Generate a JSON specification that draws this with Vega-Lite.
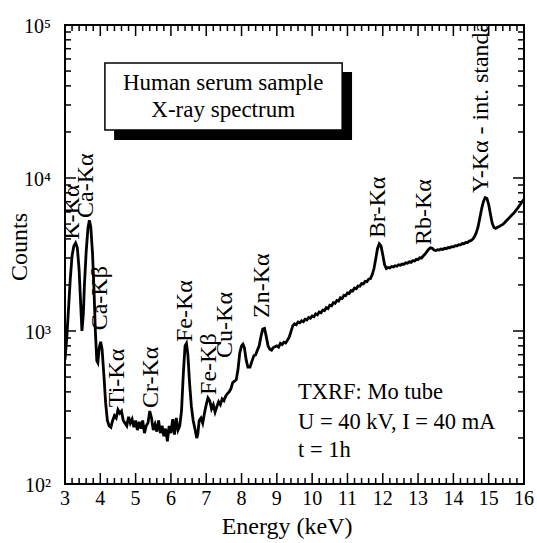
{
  "$schema": "https://vega.github.io/schema/vega-lite/v6.json",
  "width": 459,
  "height": 459,
  "autosize": {"type": "none"},
  "padding": {"left": 65, "top": 25, "right": 13, "bottom": 59},
  "background": "white",
  "config": {
    "view": {"stroke": "black", "strokeWidth": 2}
  },
  "datasets": {
    "spec": [
      {"e":3.00,"c":650},{"e":3.05,"c":900},{"e":3.10,"c":1400},{"e":3.15,"c":2200},{"e":3.20,"c":3100},{"e":3.25,"c":3600},{"e":3.30,"c":3760},{"e":3.35,"c":3500},{"e":3.40,"c":2500},{"e":3.45,"c":1400},{"e":3.48,"c":1000},{"e":3.52,"c":1300},{"e":3.55,"c":2000},{"e":3.60,"c":3300},{"e":3.65,"c":4700},{"e":3.69,"c":5300},{"e":3.73,"c":4800},{"e":3.78,"c":3200},{"e":3.82,"c":1900},{"e":3.86,"c":1000},{"e":3.90,"c":640},{"e":3.93,"c":620},{"e":3.97,"c":780},{"e":4.01,"c":850},{"e":4.05,"c":760},{"e":4.10,"c":520},{"e":4.15,"c":340},{"e":4.20,"c":260},{"e":4.25,"c":240},{"e":4.30,"c":235},{"e":4.35,"c":260},{"e":4.40,"c":280},{"e":4.45,"c":270},{"e":4.50,"c":305},{"e":4.55,"c":290},{"e":4.60,"c":300},{"e":4.65,"c":260},{"e":4.70,"c":250},{"e":4.75,"c":240},{"e":4.80,"c":275},{"e":4.85,"c":250},{"e":4.90,"c":265},{"e":4.95,"c":235},{"e":5.00,"c":260},{"e":5.05,"c":225},{"e":5.10,"c":255},{"e":5.15,"c":230},{"e":5.20,"c":260},{"e":5.25,"c":215},{"e":5.30,"c":240},{"e":5.35,"c":250},{"e":5.40,"c":300},{"e":5.45,"c":270},{"e":5.50,"c":225},{"e":5.55,"c":245},{"e":5.60,"c":220},{"e":5.65,"c":260},{"e":5.70,"c":215},{"e":5.75,"c":240},{"e":5.80,"c":205},{"e":5.85,"c":230},{"e":5.90,"c":190},{"e":5.95,"c":240},{"e":6.00,"c":215},{"e":6.05,"c":265},{"e":6.10,"c":210},{"e":6.15,"c":270},{"e":6.20,"c":225},{"e":6.25,"c":240},{"e":6.30,"c":300},{"e":6.35,"c":520},{"e":6.40,"c":800},{"e":6.44,"c":830},{"e":6.48,"c":700},{"e":6.53,"c":450},{"e":6.58,"c":320},{"e":6.63,"c":260},{"e":6.68,"c":230},{"e":6.73,"c":200},{"e":6.76,"c":210},{"e":6.80,"c":260},{"e":6.85,"c":270},{"e":6.90,"c":250},{"e":6.95,"c":290},{"e":7.00,"c":330},{"e":7.05,"c":365},{"e":7.10,"c":350},{"e":7.15,"c":310},{"e":7.20,"c":330},{"e":7.25,"c":295},{"e":7.30,"c":320},{"e":7.35,"c":345},{"e":7.40,"c":330},{"e":7.45,"c":360},{"e":7.50,"c":350},{"e":7.55,"c":375},{"e":7.60,"c":390},{"e":7.65,"c":400},{"e":7.70,"c":420},{"e":7.75,"c":460},{"e":7.80,"c":470},{"e":7.85,"c":480},{"e":7.90,"c":560},{"e":7.95,"c":720},{"e":8.00,"c":800},{"e":8.04,"c":820},{"e":8.08,"c":780},{"e":8.13,"c":650},{"e":8.18,"c":580},{"e":8.24,"c":580},{"e":8.30,"c":640},{"e":8.35,"c":690},{"e":8.40,"c":700},{"e":8.45,"c":750},{"e":8.50,"c":800},{"e":8.55,"c":920},{"e":8.60,"c":1030},{"e":8.65,"c":1040},{"e":8.70,"c":920},{"e":8.75,"c":800},{"e":8.80,"c":760},{"e":8.85,"c":750},{"e":8.90,"c":780},{"e":8.95,"c":790},
      {"e":9.00,"c":800},{"e":9.05,"c":785},{"e":9.10,"c":830},{"e":9.15,"c":815},{"e":9.20,"c":845},{"e":9.25,"c":835},{"e":9.30,"c":870},{"e":9.35,"c":910},{"e":9.40,"c":990},{"e":9.45,"c":1080},{"e":9.50,"c":1115},{"e":9.55,"c":1100},{"e":9.60,"c":1145},{"e":9.65,"c":1130},{"e":9.70,"c":1165},{"e":9.75,"c":1150},{"e":9.80,"c":1195},{"e":9.85,"c":1180},{"e":9.90,"c":1225},{"e":9.95,"c":1210},{"e":10.00,"c":1255},{"e":10.05,"c":1240},{"e":10.10,"c":1295},{"e":10.15,"c":1275},{"e":10.20,"c":1330},{"e":10.25,"c":1315},{"e":10.30,"c":1370},{"e":10.35,"c":1360},{"e":10.40,"c":1420},{"e":10.45,"c":1400},{"e":10.50,"c":1475},{"e":10.55,"c":1460},{"e":10.60,"c":1530},{"e":10.65,"c":1515},{"e":10.70,"c":1585},{"e":10.75,"c":1570},{"e":10.80,"c":1650},{"e":10.85,"c":1630},{"e":10.90,"c":1710},{"e":10.95,"c":1700},{"e":11.00,"c":1775},{"e":11.05,"c":1760},{"e":11.10,"c":1840},{"e":11.15,"c":1830},{"e":11.20,"c":1910},{"e":11.25,"c":1890},{"e":11.30,"c":1970},{"e":11.35,"c":1960},{"e":11.40,"c":2040},{"e":11.45,"c":2030},{"e":11.50,"c":2110},{"e":11.55,"c":2100},{"e":11.60,"c":2180},{"e":11.65,"c":2200},{"e":11.70,"c":2330},{"e":11.75,"c":2550},{"e":11.80,"c":2950},{"e":11.85,"c":3450},{"e":11.90,"c":3720},{"e":11.95,"c":3600},{"e":12.00,"c":3150},{"e":12.05,"c":2720},{"e":12.10,"c":2560},{"e":12.15,"c":2600},{"e":12.20,"c":2580},{"e":12.25,"c":2640},{"e":12.30,"c":2620},{"e":12.35,"c":2670},{"e":12.40,"c":2650},{"e":12.45,"c":2710},{"e":12.50,"c":2690},{"e":12.55,"c":2740},{"e":12.60,"c":2730},{"e":12.65,"c":2790},{"e":12.70,"c":2770},{"e":12.75,"c":2830},{"e":12.80,"c":2810},{"e":12.85,"c":2880},{"e":12.90,"c":2870},{"e":12.95,"c":2940},{"e":13.00,"c":2930},{"e":13.05,"c":3010},{"e":13.10,"c":3000},{"e":13.15,"c":3100},{"e":13.20,"c":3180},{"e":13.25,"c":3300},{"e":13.30,"c":3420},{"e":13.35,"c":3500},{"e":13.40,"c":3470},{"e":13.45,"c":3380},{"e":13.50,"c":3360},{"e":13.55,"c":3400},{"e":13.60,"c":3380},{"e":13.65,"c":3430},{"e":13.70,"c":3410},{"e":13.75,"c":3470},{"e":13.80,"c":3450},{"e":13.85,"c":3510},{"e":13.90,"c":3500},{"e":13.95,"c":3560},{"e":14.00,"c":3550},{"e":14.05,"c":3610},{"e":14.10,"c":3600},{"e":14.15,"c":3670},{"e":14.20,"c":3660},{"e":14.25,"c":3730},{"e":14.30,"c":3720},{"e":14.35,"c":3790},{"e":14.40,"c":3780},{"e":14.45,"c":3870},{"e":14.50,"c":3900},{"e":14.55,"c":3990},{"e":14.60,"c":4150},{"e":14.65,"c":4400},{"e":14.70,"c":4800},{"e":14.75,"c":5500},{"e":14.80,"c":6300},{"e":14.85,"c":7000},{"e":14.90,"c":7450},{"e":14.95,"c":7350},{"e":15.00,"c":6700},{"e":15.05,"c":5800},{"e":15.10,"c":5050},{"e":15.15,"c":4750},{"e":15.20,"c":4680},{"e":15.25,"c":4760},{"e":15.30,"c":4820},{"e":15.35,"c":4900},{"e":15.40,"c":4980},{"e":15.45,"c":5100},{"e":15.50,"c":5250},{"e":15.55,"c":5400},{"e":15.60,"c":5550},{"e":15.65,"c":5700},{"e":15.70,"c":5850},{"e":15.75,"c":6050},{"e":15.80,"c":6250},{"e":15.85,"c":6500},{"e":15.90,"c":6750},{"e":15.95,"c":7000},{"e":16.00,"c":7250}
    ],
    "peaks": [
      {"t":"K-Kα","e":3.2,"c":3950},
      {"t":"Ca-Kα","e":3.6,"c":5480},
      {"t":"Ca-Kβ","e":3.99,"c":1010},
      {"t":"Ti-Kα","e":4.47,"c":318},
      {"t":"Cr-Kα","e":5.44,"c":314},
      {"t":"Fe-Kα","e":6.4,"c":847},
      {"t":"Fe-Kβ","e":7.08,"c":382},
      {"t":"Cu-Kα","e":7.53,"c":667},
      {"t":"Zn-Kα","e":8.58,"c":1217},
      {"t":"Br-Kα","e":11.86,"c":4050},
      {"t":"Rb-Kα","e":13.17,"c":3650},
      {"t":"Y-Kα - int. standard","e":14.78,"c":7980}
    ],
    "boxtext": [
      {"t":"Human serum sample","e":7.48,"c":41800},
      {"t":"X-ray spectrum","e":7.48,"c":27800}
    ],
    "info": [
      {"t":"TXRF: Mo tube","e":9.6,"c":399},
      {"t":"U = 40 kV, I = 40 mA","e":9.6,"c":254},
      {"t":"t = 1h","e":9.6,"c":167}
    ],
    "xmaj": [{"e":3,"t":"3"},{"e":4,"t":"4"},{"e":5,"t":"5"},{"e":6,"t":"6"},{"e":7,"t":"7"},{"e":8,"t":"8"},{"e":9,"t":"9"},{"e":10,"t":"10"},{"e":11,"t":"11"},{"e":12,"t":"12"},{"e":13,"t":"13"},{"e":14,"t":"14"},{"e":15,"t":"15"},{"e":16,"t":"16"}],
    "xmin": [{"e":3.2},{"e":3.4},{"e":3.6},{"e":3.8},{"e":4.2},{"e":4.4},{"e":4.6},{"e":4.8},{"e":5.2},{"e":5.4},{"e":5.6},{"e":5.8},{"e":6.2},{"e":6.4},{"e":6.6},{"e":6.8},{"e":7.2},{"e":7.4},{"e":7.6},{"e":7.8},{"e":8.2},{"e":8.4},{"e":8.6},{"e":8.8},{"e":9.2},{"e":9.4},{"e":9.6},{"e":9.8},{"e":10.2},{"e":10.4},{"e":10.6},{"e":10.8},{"e":11.2},{"e":11.4},{"e":11.6},{"e":11.8},{"e":12.2},{"e":12.4},{"e":12.6},{"e":12.8},{"e":13.2},{"e":13.4},{"e":13.6},{"e":13.8},{"e":14.2},{"e":14.4},{"e":14.6},{"e":14.8},{"e":15.2},{"e":15.4},{"e":15.6},{"e":15.8}],
    "ymaj": [{"c":100,"t":"10²"},{"c":1000,"t":"10³"},{"c":10000,"t":"10⁴"},{"c":100000,"t":"10⁵"}],
    "ymin": [{"c":200},{"c":300},{"c":400},{"c":500},{"c":600},{"c":700},{"c":800},{"c":900},{"c":2000},{"c":3000},{"c":4000},{"c":5000},{"c":6000},{"c":7000},{"c":8000},{"c":9000},{"c":20000},{"c":30000},{"c":40000},{"c":50000},{"c":60000},{"c":70000},{"c":80000},{"c":90000}],
    "titles": [{"t":"Energy (keV)"}],
    "ytitle": [{"t":"Counts"}],
    "dummy": [{"e":3,"c":100}]
  },
  "layer": [
    {
      "data": {"name": "spec"},
      "mark": {"type": "line", "color": "black", "strokeWidth": 2.8, "clip": true},
      "encoding": {
        "x": {"field": "e", "type": "quantitative", "scale": {"domain": [3, 16], "nice": false, "zero": false}, "axis": null},
        "y": {"field": "c", "type": "quantitative", "scale": {"type": "log", "domain": [100, 100000], "nice": false}, "axis": null}
      }
    },
    {"data": {"name": "xmaj"}, "mark": {"type": "tick", "orient": "vertical", "size": 11, "thickness": 1.5, "color": "black", "opacity": 1, "yOffset": -5.5},
     "encoding": {"x": {"field": "e", "type": "quantitative", "scale": {"domain": [3, 16], "nice": false, "zero": false}, "axis": null}, "y": {"datum": 100, "type": "quantitative", "scale": {"type": "log", "domain": [100, 100000], "nice": false}, "axis": null}}},
    {"data": {"name": "xmaj"}, "mark": {"type": "tick", "orient": "vertical", "size": 11, "thickness": 1.5, "color": "black", "opacity": 1, "yOffset": 5.5},
     "encoding": {"x": {"field": "e", "type": "quantitative", "scale": {"domain": [3, 16], "nice": false, "zero": false}, "axis": null}, "y": {"datum": 100000, "type": "quantitative", "scale": {"type": "log", "domain": [100, 100000], "nice": false}, "axis": null}}},
    {"data": {"name": "xmin"}, "mark": {"type": "tick", "orient": "vertical", "size": 6, "thickness": 1.5, "color": "black", "opacity": 1, "yOffset": -3},
     "encoding": {"x": {"field": "e", "type": "quantitative", "scale": {"domain": [3, 16], "nice": false, "zero": false}, "axis": null}, "y": {"datum": 100, "type": "quantitative", "scale": {"type": "log", "domain": [100, 100000], "nice": false}, "axis": null}}},
    {"data": {"name": "xmin"}, "mark": {"type": "tick", "orient": "vertical", "size": 6, "thickness": 1.5, "color": "black", "opacity": 1, "yOffset": 3},
     "encoding": {"x": {"field": "e", "type": "quantitative", "scale": {"domain": [3, 16], "nice": false, "zero": false}, "axis": null}, "y": {"datum": 100000, "type": "quantitative", "scale": {"type": "log", "domain": [100, 100000], "nice": false}, "axis": null}}},
    {"data": {"name": "ymaj"}, "mark": {"type": "tick", "orient": "horizontal", "size": 11, "thickness": 1.5, "color": "black", "opacity": 1, "xOffset": 5.5},
     "encoding": {"y": {"field": "c", "type": "quantitative", "scale": {"type": "log", "domain": [100, 100000], "nice": false}, "axis": null}, "x": {"datum": 3, "type": "quantitative", "scale": {"domain": [3, 16], "nice": false, "zero": false}, "axis": null}}},
    {"data": {"name": "ymaj"}, "mark": {"type": "tick", "orient": "horizontal", "size": 11, "thickness": 1.5, "color": "black", "opacity": 1, "xOffset": -5.5},
     "encoding": {"y": {"field": "c", "type": "quantitative", "scale": {"type": "log", "domain": [100, 100000], "nice": false}, "axis": null}, "x": {"datum": 16, "type": "quantitative", "scale": {"domain": [3, 16], "nice": false, "zero": false}, "axis": null}}},
    {"data": {"name": "ymin"}, "mark": {"type": "tick", "orient": "horizontal", "size": 6, "thickness": 1.5, "color": "black", "opacity": 1, "xOffset": 3},
     "encoding": {"y": {"field": "c", "type": "quantitative", "scale": {"type": "log", "domain": [100, 100000], "nice": false}, "axis": null}, "x": {"datum": 3, "type": "quantitative", "scale": {"domain": [3, 16], "nice": false, "zero": false}, "axis": null}}},
    {"data": {"name": "ymin"}, "mark": {"type": "tick", "orient": "horizontal", "size": 6, "thickness": 1.5, "color": "black", "opacity": 1, "xOffset": -3},
     "encoding": {"y": {"field": "c", "type": "quantitative", "scale": {"type": "log", "domain": [100, 100000], "nice": false}, "axis": null}, "x": {"datum": 16, "type": "quantitative", "scale": {"domain": [3, 16], "nice": false, "zero": false}, "axis": null}}},
    {"data": {"name": "xmaj"}, "mark": {"type": "text", "font": "Liberation Serif", "fontSize": 20, "align": "center", "baseline": "middle", "color": "black"},
     "encoding": {"x": {"field": "e", "type": "quantitative", "scale": {"domain": [3, 16], "nice": false, "zero": false}, "axis": null}, "y": {"datum": 79.8, "type": "quantitative", "scale": {"type": "log", "domain": [100, 100000], "nice": false}, "axis": null}, "text": {"field": "t"}}},
    {"data": {"name": "ymaj"}, "mark": {"type": "text", "font": "Liberation Serif", "fontSize": 20, "align": "right", "baseline": "middle", "dy": 2, "color": "black"},
     "encoding": {"y": {"field": "c", "type": "quantitative", "scale": {"type": "log", "domain": [100, 100000], "nice": false}, "axis": null}, "x": {"datum": 2.604, "type": "quantitative", "scale": {"domain": [3, 16], "nice": false, "zero": false}, "axis": null}, "text": {"field": "t"}}},
    {"data": {"name": "titles"}, "mark": {"type": "text", "font": "Liberation Serif", "fontSize": 24, "align": "center", "baseline": "middle", "color": "black"},
     "encoding": {"x": {"datum": 9.29, "type": "quantitative", "scale": {"domain": [3, 16], "nice": false, "zero": false}, "axis": null}, "y": {"datum": 52.3, "type": "quantitative", "scale": {"type": "log", "domain": [100, 100000], "nice": false}, "axis": null}, "text": {"field": "t"}}},
    {"data": {"name": "ytitle"}, "mark": {"type": "text", "font": "Liberation Serif", "fontSize": 24, "align": "center", "baseline": "middle", "angle": 270, "color": "black"},
     "encoding": {"x": {"datum": 1.726, "type": "quantitative", "scale": {"domain": [3, 16], "nice": false, "zero": false}, "axis": null}, "y": {"datum": 3540, "type": "quantitative", "scale": {"type": "log", "domain": [100, 100000], "nice": false}, "axis": null}, "text": {"field": "t"}}},
    {
      "data": {"name": "dummy"},
      "mark": {"type": "rect", "color": "black"},
      "encoding": {
        "x": {"datum": 4.39, "type": "quantitative", "scale": {"domain": [3, 16], "nice": false, "zero": false}, "axis": null},
        "x2": {"datum": 11.13},
        "y": {"datum": 49300, "type": "quantitative", "scale": {"type": "log", "domain": [100, 100000], "nice": false}, "axis": null},
        "y2": {"datum": 17700}
      }
    },
    {
      "data": {"name": "dummy"},
      "mark": {"type": "rect", "fill": "white", "stroke": "black", "strokeWidth": 1.5},
      "encoding": {
        "x": {"datum": 4.13, "type": "quantitative", "scale": {"domain": [3, 16], "nice": false, "zero": false}, "axis": null},
        "x2": {"datum": 10.85},
        "y": {"datum": 56500, "type": "quantitative", "scale": {"type": "log", "domain": [100, 100000], "nice": false}, "axis": null},
        "y2": {"datum": 20600}
      }
    },
    {
      "data": {"name": "boxtext"},
      "mark": {"type": "text", "font": "Liberation Serif", "fontSize": 23, "align": "center", "baseline": "middle", "color": "black"},
      "encoding": {
        "x": {"field": "e", "type": "quantitative", "scale": {"domain": [3, 16], "nice": false, "zero": false}, "axis": null},
        "y": {"field": "c", "type": "quantitative", "scale": {"type": "log", "domain": [100, 100000], "nice": false}, "axis": null},
        "text": {"field": "t"}
      }
    },
    {
      "data": {"name": "info"},
      "mark": {"type": "text", "font": "Liberation Serif", "fontSize": 22.5, "align": "left", "baseline": "middle", "color": "black"},
      "encoding": {
        "x": {"field": "e", "type": "quantitative", "scale": {"domain": [3, 16], "nice": false, "zero": false}, "axis": null},
        "y": {"field": "c", "type": "quantitative", "scale": {"type": "log", "domain": [100, 100000], "nice": false}, "axis": null},
        "text": {"field": "t"}
      }
    },
    {
      "data": {"name": "peaks"},
      "mark": {"type": "text", "font": "Liberation Serif", "fontSize": 24, "align": "left", "baseline": "middle", "angle": 270, "color": "black", "clip": true},
      "encoding": {
        "x": {"field": "e", "type": "quantitative", "scale": {"domain": [3, 16], "nice": false, "zero": false}, "axis": null},
        "y": {"field": "c", "type": "quantitative", "scale": {"type": "log", "domain": [100, 100000], "nice": false}, "axis": null},
        "text": {"field": "t"}
      }
    }
  ]
}
